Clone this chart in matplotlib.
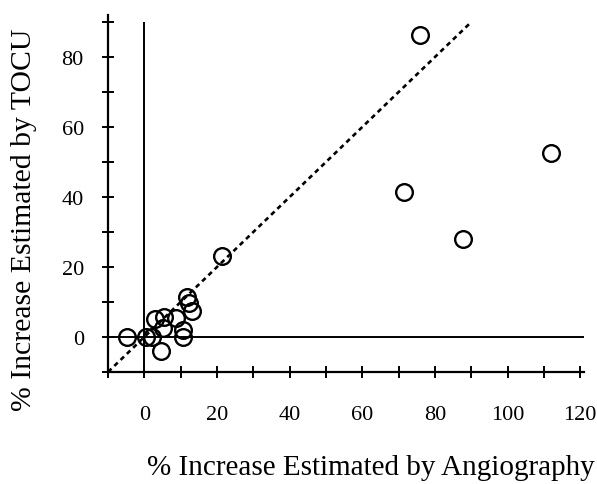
import matplotlib
matplotlib.use("Agg")
from matplotlib import pyplot as plt
import numpy as np

# percent increase, angiography vs TOCU
angio = [-4.7, 0.5, 2.0, 3.0, 5.5, 5.0, 4.7, 8.8, 10.7, 10.5, 11.6, 12.4, 13.2,
         21.5, 75.8, 71.6, 87.6, 112.0]
tocu = [0.0, 0.0, 0.0, 5.2, 5.7, 2.6, -4.0, 5.3, 2.0, 0.0, 11.5, 9.7, 7.4,
        23.2, 86.2, 41.5, 28.0, 52.7]
identity = [-10, 90]
xticks = [0, 20, 40, 60, 80, 100, 120]
yticks = [0, 20, 40, 60, 80]

plt.rcParams['font.family'] = 'Liberation Serif'

fig = plt.figure(figsize=(5.97, 4.85), dpi=100)
ax = fig.add_axes([0.181, 0.231, 0.797, 0.736])

ax.plot(identity, identity, color='black', lw=1.9, ls=(0, (1.8, 1.5)))
ax.axhline(0, color='black', lw=1.4)
ax.vlines(0, -10, 90, color='black', lw=1.4)
ax.plot(angio, tocu, 'o', ms=12, mfc='none', mec='black', mew=1.7)

ax.set_xlim(-10, 121)
ax.set_ylim(-10, 92)
ax.set_xticks(np.arange(-10, 121, 10), minor=True)
ax.set_yticks(np.arange(-10, 91, 10), minor=True)
ax.set_xticks(xticks)
ax.set_yticks(yticks)
for s in ['top', 'right']:
    ax.spines[s].set_visible(False)
for s in ['left', 'bottom']:
    ax.spines[s].set_linewidth(1.6)
ax.tick_params(which='both', direction='inout', length=9, width=1.4,
               labelsize=16)
ax.tick_params(axis='x', pad=19)
ax.tick_params(axis='y', pad=13)

ax.set_xlabel('% Increase Estimated by Angiography', fontsize=21)
ax.set_ylabel('% Increase Estimated by TOCU', fontsize=21.4)
ax.xaxis.set_label_coords(0.552, -0.23)
ax.yaxis.set_label_coords(-0.149, 0.43)

fig.savefig('out.png', dpi=100)
